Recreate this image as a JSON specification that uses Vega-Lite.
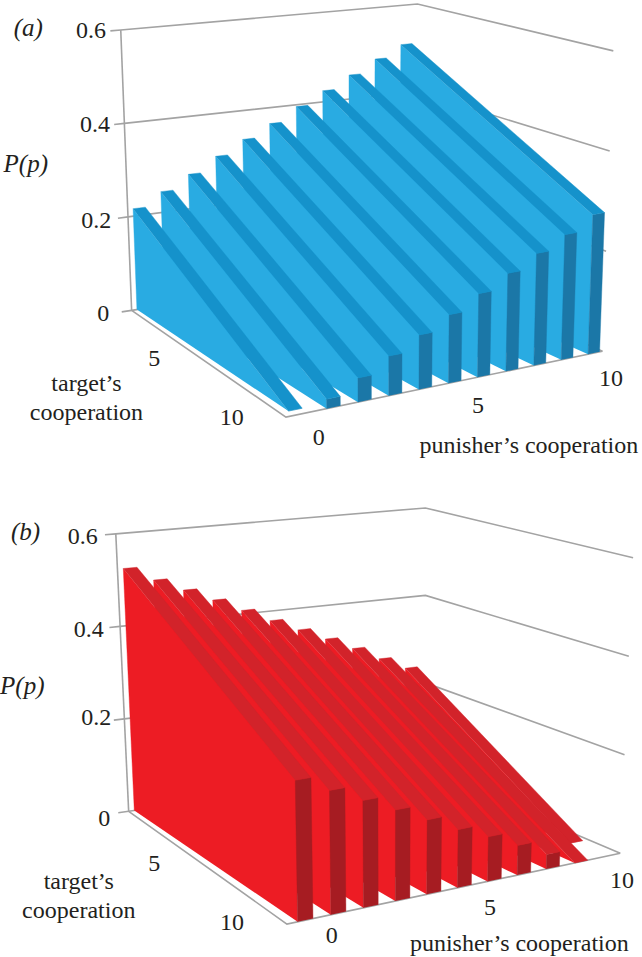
{"$schema":"https://vega.github.io/schema/vega-lite/v6.json","width":642,"height":957,"autosize":{"type":"fit","contains":"padding"},"padding":0,"background":"white","config":{"view":{"stroke":null}},
"data":{"values":[
{"kind":"wall","panel":"a","P":0},{"kind":"wall","panel":"a","P":0.2},{"kind":"wall","panel":"a","P":0.4},{"kind":"wall","panel":"a","P":0.6},{"kind":"post","panel":"a"},{"kind":"floor","panel":"a"},
{"kind":"wall","panel":"b","P":0},{"kind":"wall","panel":"b","P":0.2},{"kind":"wall","panel":"b","P":0.4},{"kind":"wall","panel":"b","P":0.6},{"kind":"post","panel":"b"},{"kind":"floor","panel":"b"},
{"kind":"slab","panel":"a","punisher":10,"P_t0":0.511,"P_t10":0.278,"t_end":10},
{"kind":"slab","panel":"a","punisher":9,"P_t0":0.484,"P_t10":0.248,"t_end":10},
{"kind":"slab","panel":"a","punisher":8,"P_t0":0.454,"P_t10":0.221,"t_end":10},
{"kind":"slab","panel":"a","punisher":7,"P_t0":0.425,"P_t10":0.192,"t_end":10},
{"kind":"slab","panel":"a","punisher":6,"P_t0":0.396,"P_t10":0.163,"t_end":10},
{"kind":"slab","panel":"a","punisher":5,"P_t0":0.365,"P_t10":0.133,"t_end":10},
{"kind":"slab","panel":"a","punisher":4,"P_t0":0.337,"P_t10":0.105,"t_end":10},
{"kind":"slab","panel":"a","punisher":3,"P_t0":0.307,"P_t10":0.076,"t_end":10},
{"kind":"slab","panel":"a","punisher":2,"P_t0":0.275,"P_t10":0.046,"t_end":10},
{"kind":"slab","panel":"a","punisher":1,"P_t0":0.245,"P_t10":0.018,"t_end":10},
{"kind":"slab","panel":"a","punisher":0,"P_t0":0.216,"P_t10":0,"t_end":9.6},
{"kind":"slab","panel":"b","punisher":10,"P_t0":0.239,"P_t10":0,"t_end":8.35},
{"kind":"slab","panel":"b","punisher":9,"P_t0":0.267,"P_t10":0,"t_end":10},
{"kind":"slab","panel":"b","punisher":8,"P_t0":0.297,"P_t10":0.029,"t_end":10},
{"kind":"slab","panel":"b","punisher":7,"P_t0":0.325,"P_t10":0.059,"t_end":10},
{"kind":"slab","panel":"b","punisher":6,"P_t0":0.352,"P_t10":0.088,"t_end":10},
{"kind":"slab","panel":"b","punisher":5,"P_t0":0.379,"P_t10":0.114,"t_end":10},
{"kind":"slab","panel":"b","punisher":4,"P_t0":0.408,"P_t10":0.145,"t_end":10},
{"kind":"slab","panel":"b","punisher":3,"P_t0":0.437,"P_t10":0.176,"t_end":10},
{"kind":"slab","panel":"b","punisher":2,"P_t0":0.465,"P_t10":0.206,"t_end":10},
{"kind":"slab","panel":"b","punisher":1,"P_t0":0.493,"P_t10":0.237,"t_end":10},
{"kind":"slab","panel":"b","punisher":0,"P_t0":0.524,"P_t10":0.268,"t_end":10},
{"kind":"label","panel":"a","text":"(a)","p":-3.1,"t":0,"P":0.62,"italic":true},
{"kind":"label","panel":"a","text":"0.6","p":-1,"t":0,"P":0.604},
{"kind":"label","panel":"a","text":"0.4","p":-1,"t":0,"P":0.404},
{"kind":"label","panel":"a","text":"0.2","p":-1.1,"t":0,"P":0.2},
{"kind":"label","panel":"a","text":"0","p":-1,"t":0,"P":0.002},
{"kind":"label","panel":"a","text":"P(p)","p":-3.43,"t":0,"P":0.338,"italic":true},
{"kind":"label","panel":"a","text":"5","p":-1.3,"t":3.96,"P":0},
{"kind":"label","panel":"a","text":"10","p":-1.36,"t":9.26,"P":0},
{"kind":"label","panel":"a","text":"target’s\ncooperation","p":-4.02,"t":4.87,"P":0},
{"kind":"label","panel":"a","text":"0","p":0.06,"t":12,"P":0},
{"kind":"label","panel":"a","text":"5","p":4.88,"t":12.2,"P":0},
{"kind":"label","panel":"a","text":"10","p":8.9,"t":12.35,"P":0},
{"kind":"label","panel":"a","text":"punisher’s cooperation","p":4.44,"t":16.05,"P":0},
{"kind":"label","panel":"b","text":"(b)","p":-2.9,"t":0,"P":0.62,"italic":true},
{"kind":"label","panel":"b","text":"0.6","p":-1.07,"t":0,"P":0.6},
{"kind":"label","panel":"b","text":"0.4","p":-1.03,"t":0,"P":0.4},
{"kind":"label","panel":"b","text":"0.2","p":-0.93,"t":0,"P":0.21},
{"kind":"label","panel":"b","text":"0","p":-0.83,"t":0,"P":-0.01},
{"kind":"label","panel":"b","text":"P(p)","p":-3.3,"t":0,"P":0.296,"italic":true},
{"kind":"label","panel":"b","text":"5","p":-1.25,"t":4.08,"P":0},
{"kind":"label","panel":"b","text":"10","p":-1.25,"t":9.13,"P":0},
{"kind":"label","panel":"b","text":"target’s\ncooperation","p":-3.83,"t":4.42,"P":0},
{"kind":"label","panel":"b","text":"0","p":0.64,"t":11.46,"P":0},
{"kind":"label","panel":"b","text":"5","p":5.03,"t":12.0,"P":0},
{"kind":"label","panel":"b","text":"10","p":8.8,"t":12.19,"P":0},
{"kind":"label","panel":"b","text":"punisher’s cooperation","p":4.32,"t":15.08,"P":0}
]},
"transform":[
{"calculate":"datum.panel=='a'?{start:0.025,step:0.0925,thick:0.04,back:0.008}:{start:0.029,step:0.0913,thick:0.042,back:0.012}","as":"geo"},
{"calculate":"datum.geo.start+datum.geo.step*datum.punisher","as":"ul"},
{"calculate":"datum.ul+datum.geo.thick","as":"ur"},
{"calculate":"datum.t_end/10","as":"ve"},
{"calculate":"datum.kind=='slab'?[{f:'side',i:0,u:datum.ul,v:0,z:0},{f:'side',i:1,u:datum.ul,v:0,z:datum.P_t0},{f:'side',i:2,u:datum.ul,v:datum.ve,z:datum.P_t10},{f:'side',i:3,u:datum.ul,v:datum.ve,z:0},{f:'front',i:0,u:datum.ul,v:datum.ve,z:0},{f:'front',i:1,u:datum.ul,v:datum.ve,z:datum.P_t10},{f:'front',i:2,u:datum.ur,v:datum.ve,z:datum.P_t10},{f:'front',i:3,u:datum.ur,v:datum.ve,z:0},{f:'top',i:0,u:datum.ul,v:0,z:datum.P_t0},{f:'top',i:1,u:datum.ur,v:0,z:datum.P_t0},{f:'top',i:2,u:datum.ur,v:datum.ve,z:datum.P_t10},{f:'top',i:3,u:datum.ul,v:datum.ve,z:datum.P_t10}]:datum.kind=='wall'?[{f:'wall',i:0,u:-0.035,v:0,z:datum.P},{f:'wall',i:1,u:0,v:0,z:datum.P},{f:'wall',i:2,u:1,v:0,z:datum.P},{f:'wall',i:3,u:1,v:1,z:datum.P}]:datum.kind=='post'?[{f:'post',i:0,u:0,v:0,z:0},{f:'post',i:1,u:0,v:0,z:0.6}]:datum.kind=='floor'?[{f:'floor',i:0,u:0,v:0,z:0},{f:'floor',i:1,u:0,v:1,z:0},{f:'floor',i:2,u:1,v:1,z:0}]:[{f:'label',i:0,u:datum.p/10,v:datum.t/10,z:datum.P}]","as":"verts"},
{"flatten":["verts"]},
{"calculate":"datum.verts.f","as":"face"},
{"calculate":"datum.verts.i","as":"vertex"},
{"calculate":"datum.verts.v","as":"vv"},
{"calculate":"datum.verts.z","as":"zz"},
{"calculate":"0.07+0.04*datum.vv","as":"warp"},
{"calculate":"datum.kind=='slab'?(1+datum.warp)*datum.verts.u/(1+datum.warp*datum.verts.u)-datum.geo.back*(1-datum.vv):datum.verts.u","as":"ue"},
{"calculate":"[(1-datum.ue)*(1-datum.vv),(1-datum.ue)*datum.vv,datum.ue*datum.vv,datum.ue*(1-datum.vv)]","as":"w"},
{"calculate":"datum.panel=='a'?{x0:[126,282,602,412],y0:[309,416,350,266],x6:[115,277,613,415],y6:[28,96,49,2]}:{x0:[123,283,620,423],y0:[811,924,853,770],x6:[110,277,633,423],y6:[533,606,557,507]}","as":"C"},
{"calculate":"datum.w[0]*datum.C.x0[0]+datum.w[1]*datum.C.x0[1]+datum.w[2]*datum.C.x0[2]+datum.w[3]*datum.C.x0[3]","as":"ax"},
{"calculate":"datum.w[0]*datum.C.x6[0]+datum.w[1]*datum.C.x6[1]+datum.w[2]*datum.C.x6[2]+datum.w[3]*datum.C.x6[3]","as":"bx"},
{"calculate":"datum.w[0]*datum.C.y0[0]+datum.w[1]*datum.C.y0[1]+datum.w[2]*datum.C.y0[2]+datum.w[3]*datum.C.y0[3]","as":"ay"},
{"calculate":"datum.w[0]*datum.C.y6[0]+datum.w[1]*datum.C.y6[1]+datum.w[2]*datum.C.y6[2]+datum.w[3]*datum.C.y6[3]","as":"by"},
{"calculate":"datum.ax+(datum.bx-datum.ax)*datum.zz/0.6","as":"sx"},
{"calculate":"datum.ay+(datum.by-datum.ay)*datum.zz/0.6","as":"sy"},
{"calculate":"datum.panel+'-'+datum.kind+'-'+datum.punisher+'-'+datum.P+'-'+datum.face","as":"g"},
{"calculate":"datum.panel+'-'+datum.face","as":"shade"}
],
"encoding":{
"x":{"field":"sx","type":"quantitative","scale":{"domain":[0,642],"nice":false,"zero":false},"axis":null},
"y":{"field":"sy","type":"quantitative","scale":{"domain":[957,0],"nice":false,"zero":false},"axis":null}
},
"layer":[
{"transform":[{"filter":"datum.kind=='wall'||datum.kind=='post'||datum.kind=='floor'"}],
"mark":{"type":"line","stroke":"#A3A3A3","strokeWidth":1.6,"clip":false},
"encoding":{"detail":{"field":"g"},"order":{"field":"vertex","type":"quantitative"}}},
{"transform":[{"filter":"datum.kind=='slab'"}],
"mark":{"type":"line","strokeWidth":0.4,"strokeJoin":"round"},
"encoding":{"detail":{"field":"g"},"order":{"field":"vertex","type":"quantitative"},
"fill":{"field":"shade","type":"nominal","legend":null,"scale":{"domain":["a-side","a-top","a-front","b-side","b-top","b-front"],"range":["#29ABE2","#1592CB","#1B77A7","#ED1C24","#D2232A","#A61C22"]}},
"stroke":{"field":"shade","type":"nominal","legend":null,"scale":{"domain":["a-side","a-top","a-front","b-side","b-top","b-front"],"range":["#29ABE2","#1592CB","#1B77A7","#ED1C24","#D2232A","#A61C22"]}}}},
{"transform":[{"filter":"datum.kind=='label'&&!datum.italic"}],
"mark":{"type":"text","font":"Liberation Serif","fontSize":24,"color":"#231F20","baseline":"middle","align":"center","lineBreak":"\n","lineHeight":29},
"encoding":{"text":{"field":"text"}}},
{"transform":[{"filter":"datum.kind=='label'&&datum.italic"}],
"mark":{"type":"text","font":"Liberation Serif","fontStyle":"italic","fontSize":25,"color":"#231F20","baseline":"middle","align":"center"},
"encoding":{"text":{"field":"text"}}}
]}
